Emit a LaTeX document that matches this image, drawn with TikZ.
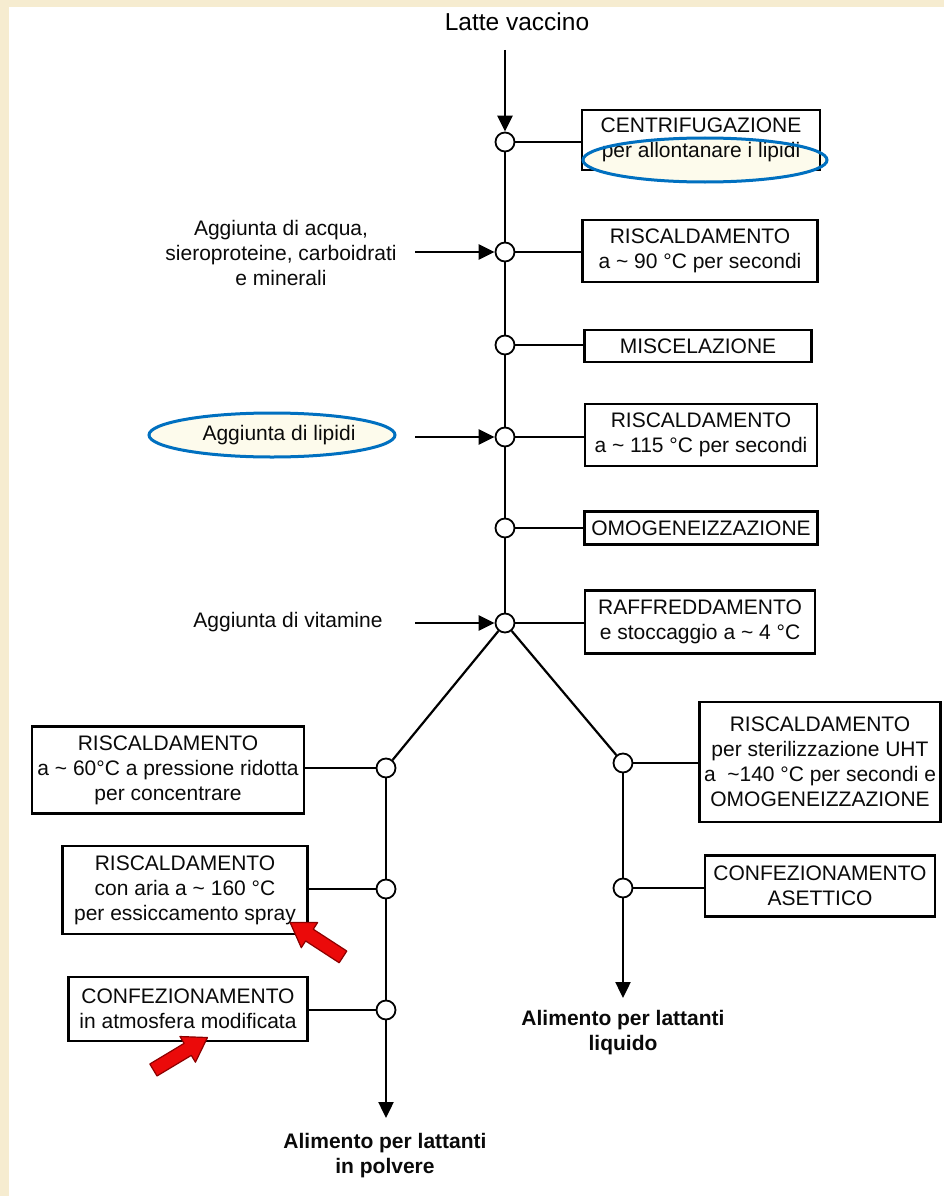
\documentclass[tikz,border=0pt]{standalone}
\usepackage{fontspec}
\setmainfont{Liberation Sans}
\usetikzlibrary{arrows.meta,positioning}
\definecolor{pBeige}{RGB}{246,236,208}
\definecolor{pBlue}{RGB}{0,112,192}
\definecolor{pRed}{RGB}{235,10,10}
\definecolor{pDarkRed}{RGB}{140,0,0}
\definecolor{pCream}{RGB}{253,251,236}
\definecolor{pInk}{RGB}{10,10,10}
\pgfdeclarelayer{back}
\pgfsetlayers{back,main}
\newcommand\txtsize{\fontsize{21}{25}\selectfont}
\tikzset{
    knot/.style={circle, draw, line width=1.8pt, fill=white, minimum size=19pt, inner sep=0pt},
    stepbox/.style={draw, line width=2.2pt, align=center, inner sep=0pt, text=pInk},
    addtxt/.style={align=center, text=pInk},
    outtxt/.style={align=center, font=\txtsize\bfseries, text=pInk},
    link/.style={line width=2.2pt},
    flow/.style={line width=2.4pt, -{Triangle[length=16pt,width=15pt]}},
    bluering/.style={draw=pBlue, line width=3pt},
    redarrow/.style={fill=pRed, draw=pDarkRed, line width=1.2pt, line join=round}
}

\begin{document}
\begin{tikzpicture}[x=1pt,y=-1pt,font=\txtsize]
\useasboundingbox (0,0) rectangle (944,1196);
\begin{pgfonlayer}{back}
\fill[pBeige] (0,0) rectangle (944,1196);
\fill[white] (9,7) rectangle (944,1196);
\fill[pCream] (705,160) ellipse [x radius=122, y radius=22];
\fill[pCream] (272,435) ellipse [x radius=123, y radius=22];
\end{pgfonlayer}

% main line
\node (src) at (517,22) {\fontsize{24.5}{29}\selectfont Latte vaccino};
\coordinate (s0) at (505,50);
\node[knot] (c1) at (505,142) {};
\node[knot] (c2) at (505,252) {};
\node[knot] (c3) at (505,345) {};
\node[knot] (c4) at (505,437) {};
\node[knot] (c5) at (505,528) {};
\node[knot] (c6) at (505,623) {};

% two branches
\node[knot] (l1) at (386,768) {};
\node[knot] (l2) at (386,889) {};
\node[knot] (l3) at (386,1010) {};
\node[knot] (r1) at (623,763) {};
\node[knot] (r2) at (623,888) {};
\coordinate (eL) at (386,1118);
\coordinate (eR) at (623,998);

% steps
\node[stepbox, minimum width=238, minimum height=60] (b1) at (701,140) {CENTRIFUGAZIONE\\per allontanare i lipidi};
\node[stepbox, minimum width=235, minimum height=62] (b2) at (700,251) {RISCALDAMENTO\\a \textasciitilde{} 90 °C per secondi};
\node[stepbox, minimum width=227, minimum height=32] (b3) at (698,346) {MISCELAZIONE};
\node[stepbox, minimum width=232, minimum height=62] (b4) at (701,435) {RISCALDAMENTO\\a \textasciitilde{} 115 °C per secondi};
\node[stepbox, minimum width=233, minimum height=33] (b5) at (701,528) {OMOGENEIZZAZIONE};
\node[stepbox, minimum width=230, minimum height=63] (b6) at (700,622) {RAFFREDDAMENTO\\e stoccaggio a \textasciitilde{} 4 °C};
\node[stepbox, minimum width=272, minimum height=87] (lb1) at (168,770) {RISCALDAMENTO\\a \textasciitilde{} 60°C a pressione ridotta\\per concentrare};
\node[stepbox, minimum width=245, minimum height=88] (lb2) at (185,890) {RISCALDAMENTO\\con aria a \textasciitilde{} 160 °C\\per essiccamento spray};
\node[stepbox, minimum width=239, minimum height=64] (lb3) at (188,1009) {CONFEZIONAMENTO\\in atmosfera modificata};
\node[stepbox, minimum width=241, minimum height=120] (rb1) at (820,762) {RISCALDAMENTO\\per sterilizzazione UHT\\a \ \textasciitilde140 °C per secondi e\\OMOGENEIZZAZIONE};
\node[stepbox, minimum width=230, minimum height=61] (rb2) at (820,886) {CONFEZIONAMENTO\\ASETTICO};

% additions
\node[addtxt] (inA) at (281,253) {Aggiunta di acqua,\\sieroproteine, carboidrati\\e minerali};
\node[addtxt] (inB) at (279,435) {Aggiunta di lipidi};
\node[addtxt] (inC) at (288,622) {Aggiunta di vitamine};
\coordinate (a1) at (415,252);
\coordinate (a2) at (415,437);
\coordinate (a3) at (415,623);

% products
\node[outtxt] (outL) at (385,1156) {Alimento per lattanti\\in polvere};
\node[outtxt] (outR) at (623,1033) {Alimento per lattanti\\liquido};

\draw[flow] (s0) -- (c1);
\draw[link] (c1) -- (c2) -- (c3) -- (c4) -- (c5) -- (c6);
\draw[flow] (a1) -- (c2);
\draw[flow] (a2) -- (c4);
\draw[flow] (a3) -- (c6);
\draw[link] (c6) -- (l1);
\draw[link] (c6) -- (r1);
\draw[link] (l1) -- (l2) -- (l3);
\draw[flow] (l3) -- (eL);
\draw[link] (r1) -- (r2);
\draw[flow] (r2) -- (eR);
\foreach \k/\b in {c1/b1,c2/b2,c3/b3,c4/b4,c5/b5,c6/b6,r1/rb1,r2/rb2}
  \draw[link] (\k) -- (\k -| \b.west);
\foreach \k/\b in {l1/lb1,l2/lb2,l3/lb3}
  \draw[link] (\k) -- (\k -| \b.east);

% marks
\begin{scope}
\clip (560,167) rectangle (850,190);
\fill[pCream] (705,160) ellipse [x radius=122, y radius=22];
\end{scope}
\draw[bluering] (705,160) ellipse [x radius=122, y radius=22];
\draw[bluering] (272,435) ellipse [x radius=123, y radius=22];
\begin{scope}[shift={(317,940)}, rotate=147]
\draw[redarrow] (-31,-7) -- (9,-7) -- (9,-15) -- (32,0) -- (9,15) -- (9,7) -- (-31,7) -- cycle;
\end{scope}
\begin{scope}[shift={(180,1054)}, rotate=31]
\draw[redarrow] (-31,-7) -- (9,-7) -- (9,-15) -- (32,0) -- (9,15) -- (9,7) -- (-31,7) -- cycle;
\end{scope}
\end{tikzpicture}
\end{document}
